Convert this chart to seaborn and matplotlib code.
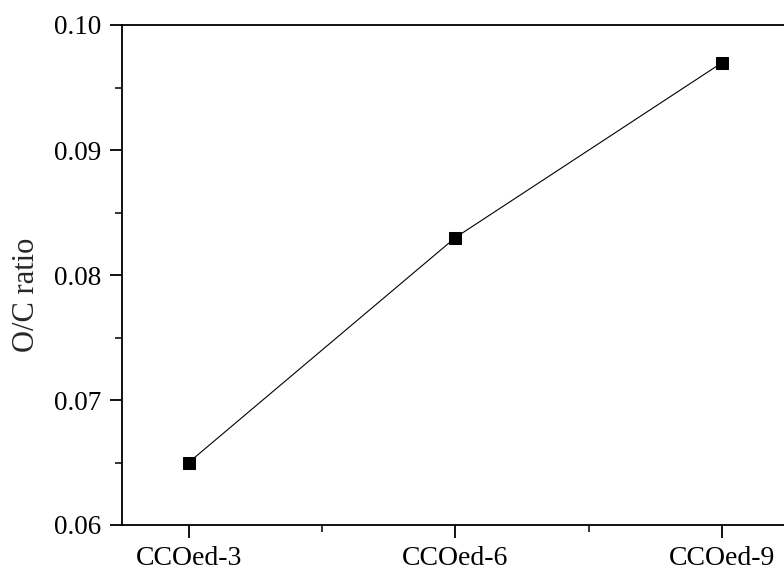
import matplotlib
matplotlib.use('Agg')
import matplotlib.pyplot as plt
import pandas as pd
import seaborn as sns
from matplotlib.ticker import MultipleLocator, AutoMinorLocator

samples = ['CCOed-3', 'CCOed-6', 'CCOed-9']
oc_ratio = [0.065, 0.083, 0.097]

data = pd.DataFrame({'sample': samples, 'oc': oc_ratio})

sns.set_theme(style='ticks')
plt.rcParams['font.family'] = ['Liberation Serif', 'DejaVu Serif']
plt.rcParams['font.size'] = 19.5

fig = plt.figure(figsize=(7.84, 5.72), dpi=100)
ax = fig.add_axes([122 / 784, 47 / 572, 667 / 784, 500 / 572])

sns.lineplot(data=data, x='sample', y='oc', sort=False, ax=ax,
             color='black', linewidth=0.8, marker='s', markersize=8,
             markeredgecolor='black', markerfacecolor='black')

ax.set_xlim(-0.25, 2.25)
ax.set_ylim(0.06, 0.10)
ax.yaxis.set_major_locator(MultipleLocator(0.01))
ax.yaxis.set_minor_locator(AutoMinorLocator(2))
ax.xaxis.set_minor_locator(MultipleLocator(0.5))
ax.yaxis.set_major_formatter(plt.FormatStrFormatter('%.2f'))

ax.set_xlabel('')
ax.set_ylabel('O/C ratio', fontsize=22)
ax.yaxis.set_label_coords(-0.121, 0.46)

for side in ['left', 'bottom', 'top', 'right']:
    ax.spines[side].set_linewidth(1.3)
    ax.spines[side].set_color('black')

ax.tick_params(which='major', direction='out', length=9, width=1.3,
               colors='black', pad=6)
ax.tick_params(axis='y', labelsize=19.5)
ax.tick_params(axis='x', labelsize=20)
ax.tick_params(which='minor', direction='out', length=5, width=1.3)
ax.tick_params(top=False, right=False, which='both')

fig.savefig('out.png', dpi=100)
